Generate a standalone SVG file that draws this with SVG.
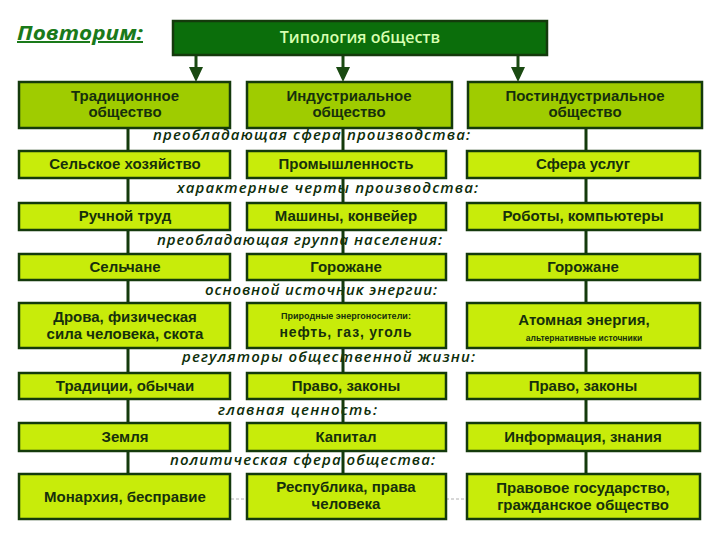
<svg xmlns="http://www.w3.org/2000/svg" width="720" height="540" viewBox="0 0 720 540">
<defs>
<style>
.bx{fill:#c8ec0a;stroke:#143a0c;stroke-width:2.5}
.bx1{fill:#9fcc00;stroke:#143a0c;stroke-width:2.5}
.t{font-family:"Liberation Sans","Open Sans",sans-serif;font-size:15px;font-weight:700;fill:#16300c;text-anchor:middle}
.t2{font-family:"Liberation Sans","Open Sans",sans-serif;font-size:15px;font-weight:700;fill:#16300c;text-anchor:middle}
.lb{font-family:"Open Sans","Liberation Sans",sans-serif;font-size:15px;font-style:italic;font-weight:600;fill:#0e2e0a}
.ln{stroke:#143a0c;stroke-width:3;fill:none}
.ar{stroke:#1a4a12;stroke-width:3;fill:none}
.ah{fill:#1a4a12}
.sm{font-family:"Liberation Sans","Open Sans",sans-serif;font-weight:700;fill:#16300c;text-anchor:middle}
</style>
</defs>
<rect width="720" height="540" fill="#ffffff"/>

<g id="header">
<text x="17" y="40" font-family="Open Sans, Liberation Sans, sans-serif" font-size="20" font-weight="700" font-style="italic" fill="#1a7a1a" text-decoration="underline" textLength="126" lengthAdjust="spacingAndGlyphs">Повторим:</text>
</g>

<g id="labels">
<text class="lb" x="153" y="140" textLength="317" lengthAdjust="spacing">преобладающая  сфера производства:</text>
<text class="lb" x="177" y="193" textLength="301" lengthAdjust="spacing">характерные  черты производства:</text>
<text class="lb" x="157" y="245" textLength="285" lengthAdjust="spacing">преобладающая группа населения:</text>
<text class="lb" x="205" y="295" textLength="232" lengthAdjust="spacing">основной  источник энергии:</text>
<text class="lb" x="182" y="362" textLength="293" lengthAdjust="spacing">регуляторы  общественной жизни:</text>
<text class="lb" x="218" y="415" textLength="159" lengthAdjust="spacing">главная  ценность:</text>
<text class="lb" x="170" y="465" textLength="265" lengthAdjust="spacing">политическая  сфера общества:</text>
</g>

<g id="connectors">
<line class="ar" x1="196" y1="55" x2="196" y2="69"/>
<polygon class="ah" points="189,67 203,67 196,82"/>
<line class="ar" x1="343" y1="55" x2="343" y2="69"/>
<polygon class="ah" points="336,67 350,67 343,82"/>
<line class="ar" x1="518" y1="55" x2="518" y2="69"/>
<polygon class="ah" points="511,67 525,67 518,82"/>
<line class="ln" x1="128" y1="128" x2="128" y2="474"/>
<line class="ln" x1="343" y1="128" x2="343" y2="474"/>
<line class="ln" x1="586" y1="128" x2="586" y2="474"/>
<line x1="231" y1="499" x2="247" y2="499" stroke="#b0b0b0" stroke-width="1" stroke-dasharray="3,2"/>
<line x1="446" y1="499" x2="467" y2="499" stroke="#b0b0b0" stroke-width="1" stroke-dasharray="3,2"/>
</g>

<g id="title">
<rect x="173" y="21" width="374" height="34" fill="#0b6e0b" stroke="#143a0c" stroke-width="2.5"/>
<text x="360" y="43" font-family="Open Sans, Liberation Sans, sans-serif" font-size="16" font-weight="600" fill="#d8ffb0" text-anchor="middle">Типология обществ</text>
</g>

<g id="trad">
<rect class="bx1" x="19" y="82" width="211" height="46"/>
<text class="t2" x="125" y="101">Традиционное</text>
<text class="t2" x="125" y="117">общество</text>
</g>
<g id="ind">
<rect class="bx1" x="247" y="82" width="205" height="46"/>
<text class="t2" x="349" y="101">Индустриальное</text>
<text class="t2" x="349" y="117">общество</text>
</g>
<g id="post">
<rect class="bx1" x="468" y="82" width="234" height="46"/>
<text class="t2" x="585" y="101">Постиндустриальное</text>
<text class="t2" x="585" y="117">общество</text>
</g>

<g id="r2a"><rect class="bx" x="19" y="151" width="211" height="27"/><text class="t" x="125" y="169">Сельское хозяйство</text></g>
<g id="r2b"><rect class="bx" x="247" y="151" width="199" height="27"/><text class="t" x="346" y="169">Промышленность</text></g>
<g id="r2c"><rect class="bx" x="467" y="151" width="233" height="27"/><text class="t" x="583" y="169">Сфера услуг</text></g>

<g id="r3a"><rect class="bx" x="19" y="203" width="211" height="27"/><text class="t" x="125" y="221">Ручной труд</text></g>
<g id="r3b"><rect class="bx" x="247" y="203" width="199" height="27"/><text class="t" x="346" y="221">Машины, конвейер</text></g>
<g id="r3c"><rect class="bx" x="467" y="203" width="233" height="27"/><text class="t" x="583" y="221">Роботы, компьютеры</text></g>

<g id="r4a"><rect class="bx" x="19" y="254" width="211" height="26"/><text class="t" x="125" y="272">Сельчане</text></g>
<g id="r4b"><rect class="bx" x="247" y="254" width="199" height="26"/><text class="t" x="346" y="272">Горожане</text></g>
<g id="r4c"><rect class="bx" x="467" y="254" width="233" height="26"/><text class="t" x="583" y="272">Горожане</text></g>

<g id="r5a"><rect class="bx" x="19" y="303" width="211" height="45"/>
<text class="t2" x="125" y="322">Дрова, физическая</text>
<text class="t2" x="125" y="339">сила человека, скота</text></g>
<g id="r5b"><rect class="bx" x="247" y="303" width="199" height="45"/>
<text class="sm" x="346" y="319" font-size="9">Природные энергоносители:</text>
<text class="sm" x="346" y="337" font-size="14" letter-spacing="0.8">нефть, газ, уголь</text></g>
<g id="r5c"><rect class="bx" x="467" y="303" width="233" height="45"/>
<text class="sm" x="584" y="325" font-size="15">Атомная энергия,</text>
<text class="sm" x="584" y="341" font-size="8.5">альтернативные источники</text></g>

<g id="r6a"><rect class="bx" x="19" y="373" width="211" height="26"/><text class="t" x="125" y="391">Традиции, обычаи</text></g>
<g id="r6b"><rect class="bx" x="247" y="373" width="199" height="26"/><text class="t" x="346" y="391">Право, законы</text></g>
<g id="r6c"><rect class="bx" x="467" y="373" width="233" height="26"/><text class="t" x="583" y="391">Право, законы</text></g>

<g id="r7a"><rect class="bx" x="19" y="423" width="211" height="28"/><text class="t" x="125" y="442">Земля</text></g>
<g id="r7b"><rect class="bx" x="247" y="423" width="199" height="28"/><text class="t" x="346" y="442">Капитал</text></g>
<g id="r7c"><rect class="bx" x="467" y="423" width="233" height="28"/><text class="t" x="583" y="442">Информация, знания</text></g>

<g id="r8a"><rect class="bx" x="19" y="474" width="211" height="45"/><text class="t" x="125" y="502">Монархия, бесправие</text></g>
<g id="r8b"><rect class="bx" x="247" y="474" width="199" height="45"/>
<text class="t2" x="346" y="492">Республика, права</text>
<text class="t2" x="346" y="509">человека</text></g>
<g id="r8c"><rect class="bx" x="467" y="474" width="233" height="45"/>
<text class="t2" x="583" y="493">Правовое государство,</text>
<text class="t2" x="583" y="510">гражданское общество</text></g>
</svg>
